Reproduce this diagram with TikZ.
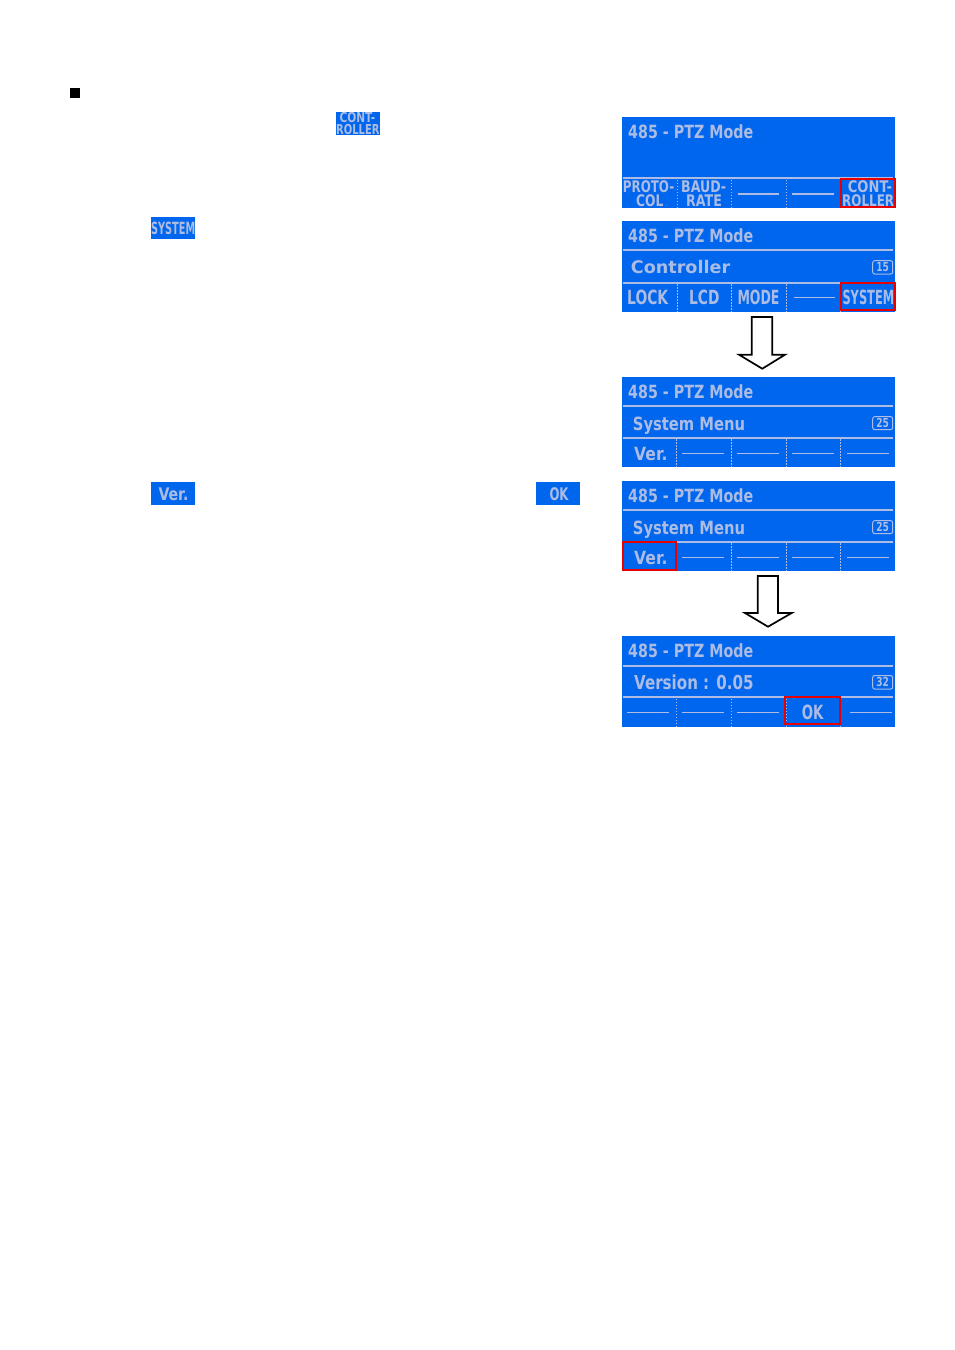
\documentclass[tikz,border=0pt]{standalone}
\usepackage{fontspec}
\usepackage{graphicx}
\newfontfamily\lcdfont{DejaVu Sans}
\definecolor{lcdblue}{RGB}{0,102,238}
\definecolor{lcdtxt}{RGB}{172,188,228}
\definecolor{boxred}{RGB}{232,0,0}
\newcommand\fw[2]{\resizebox{#1pt}{\height}{#2}}
\tikzset{
  panel/.style={fill=lcdblue, draw=none, inner sep=0pt, anchor=north west},
  lcd/.style={text=lcdtxt, inner sep=0pt, anchor=base west, font={\lcdfont\bfseries\fontsize{#1}{#1}\selectfont}},
  lcdc/.style={lcd=#1, anchor=base},
  sepline/.style={draw=lcdtxt, line width=2pt},
  divline/.style={draw=lcdtxt, line width=0.9pt, dash pattern=on 1.5pt off 1.5pt},
  blank/.style={draw=lcdtxt, line width=1.2pt},
  selbox/.style={draw=boxred, line width=2pt},
  badge/.style={draw=lcdtxt, line width=1pt, rounded corners=2pt},
  bigarrow/.style={draw=black, line width=1.7pt, fill=white, line join=miter},
}
\begin{document}
\begin{tikzpicture}[x=1pt,y=-1pt]
\useasboundingbox (0,0) rectangle (954,1350);
\fill[white] (0,0) rectangle (954,1350);

% ---------- left column ----------
\node[fill=black, inner sep=0pt, minimum width=10.7pt, minimum height=10.4pt, anchor=north west] (bullet) at (69.3,87.3) {};

\node[panel, minimum width=44pt, minimum height=23.3pt] (tagctl) at (336,111.7) {};
\node[lcd=13.7] (tagctl1) at (339.3,122.3) {\fw{35.7}{CONT-}};
\node[lcd=13.7] (tagctl2) at (336,134.3) {\fw{43.3}{ROLLER}};

\node[panel, minimum width=44pt, minimum height=22pt] (tagsys) at (151,216.7) {};
\node[lcd=16.9] (tagsyst) at (151,234) {\fw{44}{SYSTEM}};

\node[panel, minimum width=44pt, minimum height=23.3pt] (tagver) at (151,481.7) {};
\node[lcd=17.4] (tagvert) at (158.3,500) {\fw{30}{Ver.}};

\node[panel, minimum width=44pt, minimum height=23.3pt] (tagok) at (536,481.7) {};
\node[lcd=17.4] (tagokt) at (549.3,500) {\fw{19}{OK}};

% ---------- panel 1 ----------
\node[panel, minimum width=273pt, minimum height=91pt] (p1) at (622,117) {};
\node[lcd=18.2] (p1h) at (628,138.3) {\fw{125}{485 - PTZ Mode}};
\draw[sepline] (623,177.8) -- (893,177.8);
\node[lcd=16] (p1a1) at (622.7,192.7) {\fw{51.3}{PROTO-}};
\node[lcd=16] (p1a2) at (636,206.7) {\fw{27.3}{COL}};
\node[lcd=16] (p1b1) at (681,192.7) {\fw{45}{BAUD-}};
\node[lcd=16] (p1b2) at (686,206.7) {\fw{35.7}{RATE}};
\draw[blank] (737.7,194) -- (779,194);
\draw[blank] (792,194) -- (834,194);
\node[lcd=16] (p1e1) at (847.7,192.7) {\fw{44}{CONT-}};
\node[lcd=16] (p1e2) at (842,206.7) {\fw{52}{ROLLER}};
\foreach \x in {677,731,786,840} \draw[divline] (\x,179.5) -- (\x,208);
\draw[selbox] (841,179) rectangle (895,207);

% ---------- panel 2 ----------
\node[panel, minimum width=273pt, minimum height=91pt] (p2) at (622,221) {};
\node[lcd=18.2] (p2h) at (628,242.7) {\fw{125}{485 - PTZ Mode}};
\draw[sepline] (623,250) -- (893,250);
\node[lcd=17.4] (p2m) at (630.7,273.3) {\fw{99.3}{Controller}};
\draw[badge] (872.7,260.7) rectangle (892.7,274);
\node[lcdc=12.5] (p2n) at (882.7,271.6) {\fw{12.6}{15}};
\draw[sepline] (623,282.7) -- (893,282.7);
\node[lcd=19.5] (p2a) at (627,304.5) {\fw{41}{LOCK}};
\node[lcd=19.5] (p2b) at (689,304.5) {\fw{30.3}{LCD}};
\node[lcd=19.5] (p2c) at (737.3,304.5) {\fw{42}{MODE}};
\draw[blank] (794,297.7) -- (835,297.7);
\node[lcd=19.5] (p2e) at (842.3,304.5) {\fw{51.7}{SYSTEM}};
\foreach \x in {677,731,786,840} \draw[divline] (\x,284) -- (\x,312);
\draw[selbox] (841,282.7) rectangle (895,310);

% arrow 1
\draw[bigarrow] (751.7,317) -- (772.3,317) -- (772.3,354.7) -- (785,354.7)
  -- (762.3,368.7) -- (739,354.7) -- (751.7,354.7) -- cycle;

% ---------- panel 3 ----------
\node[panel, minimum width=273pt, minimum height=90pt] (p3) at (622,377) {};
\node[lcd=18.2] (p3h) at (628,398.3) {\fw{125}{485 - PTZ Mode}};
\draw[sepline] (623,405.7) -- (893,405.7);
\node[lcd=18.2] (p3m) at (632.7,430) {\fw{112.3}{System Menu}};
\draw[badge] (872.7,416.7) rectangle (892.7,429.6);
\node[lcdc=12.5] (p3n) at (882.7,427.3) {\fw{12.6}{25}};
\draw[sepline] (623,437.7) -- (893,437.7);
\node[lcd=18.2] (p3a) at (634,460) {\fw{33.3}{Ver.}};
\foreach \x in {682,737,792,847} \draw[blank] (\x,453.3) -- ++(42,0);
\foreach \x in {676,731,786,840} \draw[divline] (\x,439) -- (\x,467);

% ---------- panel 4 ----------
\node[panel, minimum width=273pt, minimum height=90pt] (p4) at (622,481) {};
\node[lcd=18.2] (p4h) at (628,502.3) {\fw{125}{485 - PTZ Mode}};
\draw[sepline] (623,509.7) -- (893,509.7);
\node[lcd=18.2] (p4m) at (632.7,534) {\fw{112.3}{System Menu}};
\draw[badge] (872.7,520.7) rectangle (892.7,533.6);
\node[lcdc=12.5] (p4n) at (882.7,531.3) {\fw{12.6}{25}};
\draw[sepline] (623,541.7) -- (893,541.7);
\node[lcd=18.2] (p4a) at (634,564) {\fw{33.3}{Ver.}};
\foreach \x in {682,737,792,847} \draw[blank] (\x,557.3) -- ++(42,0);
\foreach \x in {676,731,786,840} \draw[divline] (\x,543) -- (\x,571);
\draw[selbox] (622.7,541.7) rectangle (675.7,570);

% arrow 2
\draw[bigarrow] (757.7,576) -- (778,576) -- (778,613) -- (791.7,613)
  -- (768,626.7) -- (745,613) -- (757.7,613) -- cycle;

% ---------- panel 5 ----------
\node[panel, minimum width=273pt, minimum height=91pt] (p5) at (622,636) {};
\node[lcd=18.2] (p5h) at (628,657.3) {\fw{125}{485 - PTZ Mode}};
\draw[sepline] (623,665.7) -- (893,665.7);
\node[lcd=19.2] (p5m) at (634,689) {\fw{119.3}{Version : 0.05}};
\draw[badge] (872.7,675.5) rectangle (892.7,689);
\node[lcdc=12.5] (p5n) at (882.7,686.6) {\fw{12.6}{32}};
\draw[sepline] (623,697.3) -- (893,697.3);
\foreach \x in {627,682,737,850} \draw[blank] (\x,712.7) -- ++(42,0);
\node[lcd=19.6] (p5ok) at (801.7,719.3) {\fw{21.6}{OK}};
\foreach \x in {676,731,786,840} \draw[divline] (\x,698.5) -- (\x,727);
\draw[selbox] (785,696.7) rectangle (839.7,724);

\end{tikzpicture}
\end{document}
